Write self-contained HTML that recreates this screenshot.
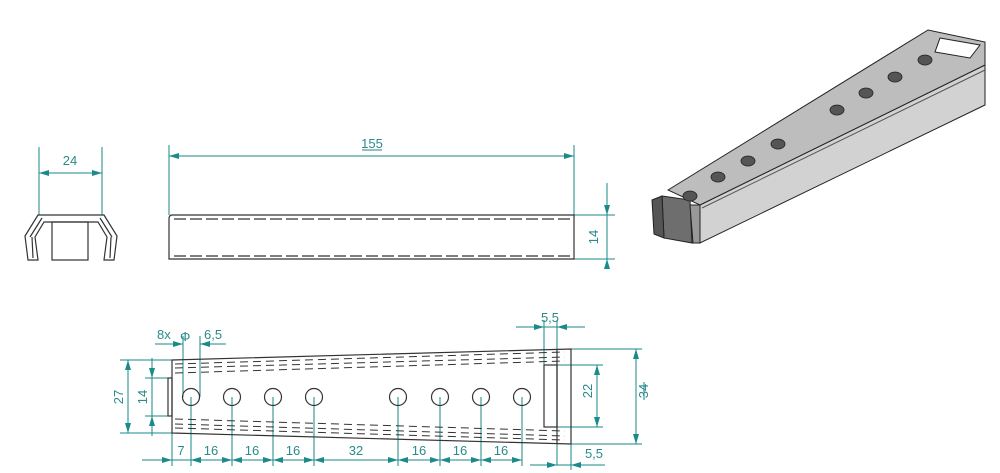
<!DOCTYPE html>
<html><head><style>
html,body{margin:0;padding:0;background:#fff;}
svg{display:block;}
text{font-family:"Liberation Sans",sans-serif;fill:#2a8a8a;font-size:13px;}
</style></head><body>
<svg width="1000" height="473" viewBox="0 0 1000 473" xmlns="http://www.w3.org/2000/svg">
<defs>
<marker id="a" viewBox="0 0 10 6" refX="10" refY="3" markerWidth="10" markerHeight="6" orient="auto-start-reverse" markerUnits="userSpaceOnUse"><path d="M0,0L10,3L0,6z" fill="#1a8a8a"/></marker>
</defs>
<g stroke="#1a8a8a" stroke-width="1" fill="none">
<line x1="39" y1="147" x2="39" y2="215"/><line x1="102" y1="147" x2="102" y2="215"/>
<line x1="39" y1="173" x2="102" y2="173" marker-start="url(#a)" marker-end="url(#a)"/>
<line x1="169" y1="145" x2="169" y2="215"/><line x1="574" y1="145" x2="574" y2="215"/>
<line x1="169" y1="156" x2="574" y2="156" marker-start="url(#a)" marker-end="url(#a)"/>
<line x1="362" y1="150" x2="382" y2="150"/>
<line x1="574" y1="215" x2="615" y2="215"/><line x1="574" y1="259" x2="615" y2="259"/>
<line x1="607" y1="183" x2="607" y2="215" marker-end="url(#a)"/>
<line x1="607" y1="267" x2="607" y2="259" marker-end="url(#a)"/>
<line x1="607" y1="215" x2="607" y2="259"/>
<line x1="120" y1="360" x2="172" y2="360"/><line x1="120" y1="433" x2="172" y2="433"/>
<line x1="128" y1="360" x2="128" y2="433" marker-start="url(#a)" marker-end="url(#a)"/>
<line x1="145" y1="378" x2="168" y2="378"/><line x1="145" y1="416" x2="168" y2="416"/>
<line x1="152" y1="358" x2="152" y2="378" marker-end="url(#a)"/>
<line x1="152" y1="436" x2="152" y2="416" marker-end="url(#a)"/>
<line x1="152" y1="378" x2="152" y2="416"/>
<line x1="571" y1="349" x2="642" y2="349"/><line x1="571" y1="444" x2="642" y2="444"/>
<line x1="636" y1="349" x2="636" y2="444" marker-start="url(#a)" marker-end="url(#a)"/>
<line x1="644" y1="382" x2="644" y2="400"/>
<line x1="557" y1="365" x2="603" y2="365"/><line x1="557" y1="427" x2="603" y2="427"/>
<line x1="597" y1="365" x2="597" y2="427" marker-start="url(#a)" marker-end="url(#a)"/>
<line x1="544" y1="320" x2="544" y2="365"/><line x1="557" y1="320" x2="557" y2="465"/>
<line x1="516" y1="327" x2="544" y2="327" marker-end="url(#a)"/>
<line x1="585" y1="327" x2="557" y2="327" marker-end="url(#a)"/>
<line x1="544" y1="327" x2="557" y2="327"/>
<line x1="571" y1="444" x2="571" y2="470"/>
<line x1="530" y1="465" x2="557" y2="465" marker-end="url(#a)"/>
<line x1="605" y1="465" x2="571" y2="465" marker-end="url(#a)"/>
<line x1="557" y1="465" x2="605" y2="465"/>
<line x1="183" y1="336" x2="183" y2="397"/><line x1="200" y1="336" x2="200" y2="397"/>
<line x1="155" y1="344" x2="183" y2="344" marker-end="url(#a)"/>
<line x1="226" y1="344" x2="200" y2="344" marker-end="url(#a)"/>
<line x1="142" y1="460" x2="522" y2="460"/>
<line x1="172" y1="433" x2="172" y2="466"/>
<g>
<line x1="191" y1="397" x2="191" y2="466"/><line x1="232" y1="397" x2="232" y2="466"/>
<line x1="273" y1="397" x2="273" y2="466"/><line x1="314" y1="397" x2="314" y2="466"/>
<line x1="398" y1="397" x2="398" y2="466"/><line x1="440" y1="397" x2="440" y2="466"/>
<line x1="481" y1="397" x2="481" y2="466"/><line x1="522" y1="397" x2="522" y2="466"/>
</g>
<line x1="150" y1="460" x2="172" y2="460" marker-end="url(#a)"/>
<line x1="210" y1="460" x2="191" y2="460" marker-end="url(#a)"/>
<line x1="191" y1="460" x2="232" y2="460" marker-start="url(#a)" marker-end="url(#a)"/>
<line x1="232" y1="460" x2="273" y2="460" marker-start="url(#a)" marker-end="url(#a)"/>
<line x1="273" y1="460" x2="314" y2="460" marker-start="url(#a)" marker-end="url(#a)"/>
<line x1="314" y1="460" x2="398" y2="460" marker-start="url(#a)" marker-end="url(#a)"/>
<line x1="398" y1="460" x2="440" y2="460" marker-start="url(#a)" marker-end="url(#a)"/>
<line x1="440" y1="460" x2="481" y2="460" marker-start="url(#a)" marker-end="url(#a)"/>
<line x1="481" y1="460" x2="522" y2="460" marker-start="url(#a)" marker-end="url(#a)"/>
</g>
<text x="70" y="165" text-anchor="middle" font-size="15">24</text>
<text x="372" y="148" text-anchor="middle" font-size="15">155</text>
<text transform="translate(598,237) rotate(-90)" text-anchor="middle" font-size="14">14</text>
<text transform="translate(123,397) rotate(-90)" text-anchor="middle" font-size="15">27</text>
<text transform="translate(147,397) rotate(-90)" text-anchor="middle" font-size="14">14</text>
<text transform="translate(648,391) rotate(-90)" text-anchor="middle" font-size="15">34</text>
<text transform="translate(592,391) rotate(-90)" text-anchor="middle" font-size="15">22</text>
<text x="550" y="322" text-anchor="middle" font-size="14">5,5</text>
<text x="594" y="458" text-anchor="middle" font-size="14">5,5</text>
<text x="157" y="339" font-size="14">8x</text>
<text x="180" y="341" font-size="21">Φ</text>
<text x="204" y="339" font-size="14">6,5</text>
<g font-size="14" text-anchor="middle">
<text x="181" y="455">7</text><text x="211" y="455">16</text><text x="252" y="455">16</text>
<text x="293" y="455">16</text><text x="356" y="455">32</text><text x="419" y="455">16</text>
<text x="460" y="455">16</text><text x="501" y="455">16</text>
</g>
<g stroke="#333" stroke-width="1.2" fill="none">
<path d="M25,236 L38,215 L104,215 L117,236 L114,260 L104,260 L107,237 L98,222 L44,222 L35,237 L38,260 L28,260 Z"/>
<path d="M30,237 L42,218 M112,237 L100,218 M33,258 L32,237 M110,258 L111,237"/>
<rect x="52" y="222" width="36" height="38"/>
<path d="M172,215 L574,215 L574,259 L169,259 L169,219 Q169,215 172,215 Z"/>
<line x1="174" y1="219" x2="574" y2="219" stroke-dasharray="12,4"/>
<line x1="174" y1="256" x2="574" y2="256" stroke-dasharray="12,4"/>
<path d="M172,360 L571,349 L571,444 L172,433 Z"/>
<rect x="168" y="378" width="4" height="38"/>
<rect x="544" y="365" width="13" height="62"/>
<line x1="557" y1="349" x2="557" y2="444"/>
<g stroke-dasharray="8,5" stroke-width="1">
<line x1="175" y1="364" x2="565" y2="352"/><line x1="175" y1="368" x2="565" y2="357"/><line x1="175" y1="373" x2="565" y2="361"/>
<line x1="175" y1="419" x2="565" y2="431"/><line x1="175" y1="424" x2="565" y2="436"/><line x1="175" y1="428" x2="565" y2="440"/>
</g>
<g>
<circle cx="191" cy="397" r="8.5"/><circle cx="232" cy="397" r="8.5"/><circle cx="273" cy="397" r="8.5"/><circle cx="314" cy="397" r="8.5"/>
<circle cx="398" cy="397" r="8.5"/><circle cx="440" cy="397" r="8.5"/><circle cx="481" cy="397" r="8.5"/><circle cx="522" cy="397" r="8.5"/>
</g>
</g>
<g stroke="#222" stroke-width="1">
<polygon points="700,205 985,65 985,105 700,243" fill="#d2d2d2"/>
<polygon points="668,190 928,30 985,42 985,65 700,205" fill="#bdbdbd"/>
<polygon points="662,196 690,200 692,243 664,238" fill="#6e6e6e"/>
<polygon points="652,200 662,196 664,238 654,234" fill="#555"/>
<polygon points="690,205 700,205 700,243 693,243" fill="#999"/>
<polygon points="940,38 980,45 970,58 935,52" fill="#fff"/>
<line x1="702" y1="208" x2="985" y2="70" stroke="#555"/>
</g>
<g fill="#555" stroke="#222" stroke-width="0.8">
<ellipse cx="690" cy="196" rx="7" ry="5"/><ellipse cx="718" cy="177" rx="7" ry="5"/>
<ellipse cx="748" cy="161" rx="7" ry="5"/><ellipse cx="778" cy="144" rx="7" ry="5"/>
<ellipse cx="837" cy="110" rx="7" ry="5"/><ellipse cx="866" cy="93" rx="7" ry="5"/>
<ellipse cx="895" cy="77" rx="7" ry="5"/><ellipse cx="925" cy="60" rx="7" ry="5"/>
</g>
</svg>
</body></html>
